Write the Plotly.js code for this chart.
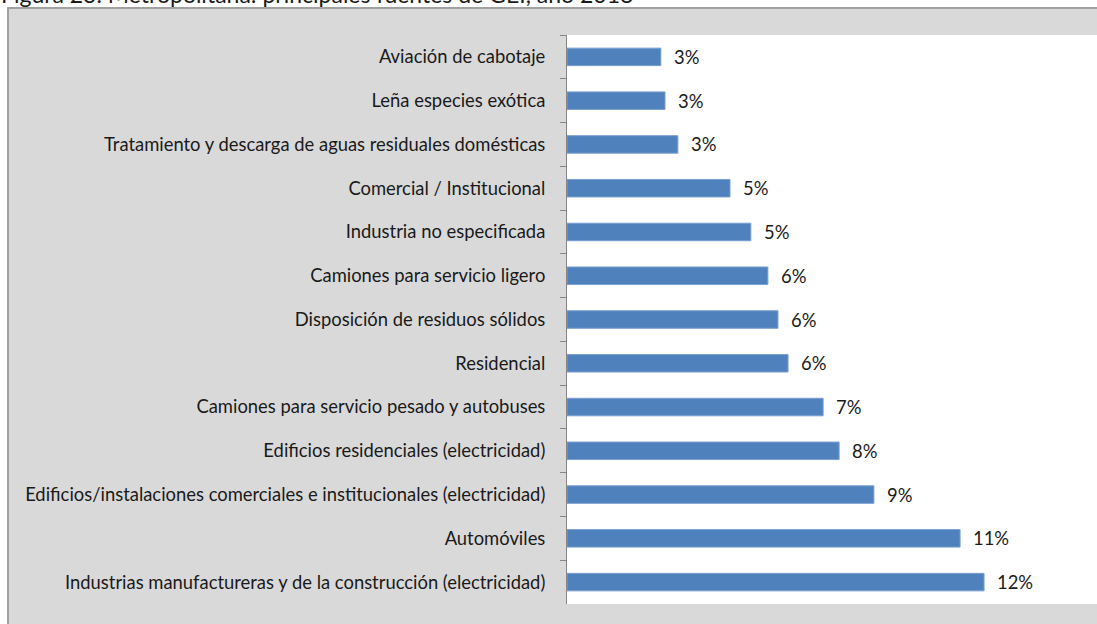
<!DOCTYPE html>
<html>
<head>
<meta charset="utf-8">
<script src="https://cdn.plot.ly/plotly-3.0.1.min.js"></script>
<style>html,body{margin:0;padding:0;background:#fff;}#chart{width:1097px;height:624px;}</style>
</head>
<body>
<div id="chart"></div>
<script>
// Categories, top to bottom as shown
const categories = [
  "Aviación de cabotaje",
  "Leña especies exótica",
  "Tratamiento y descarga de aguas residuales domésticas",
  "Comercial / Institucional",
  "Industria no especificada",
  "Camiones para servicio ligero",
  "Disposición de residuos sólidos",
  "Residencial",
  "Camiones para servicio pesado y autobuses",
  "Edificios residenciales (electricidad)",
  "Edificios/instalaciones comerciales e institucionales (electricidad)",
  "Automóviles",
  "Industrias manufactureras y de la construcción (electricidad)"
];
// Share of GHG emissions (%)
const values = [2.7, 2.82, 3.19, 4.69, 5.29, 5.78, 6.07, 6.36, 7.37, 7.83, 8.83, 11.31, 12.0];
// Data labels as printed
const pctLabels = ["3%", "3%", "3%", "5%", "5%", "6%", "6%", "6%", "7%", "8%", "9%", "11%", "12%"];
const titleText = "Figura 23. Metropolitana: principales fuentes de GEI, año 2018";

const FONT = "Lato, 'Liberation Sans', sans-serif";
const W = 1097, H = 624;
const M = {l: 567, r: 0, t: 35, b: 20};
const pw = W - M.l - M.r, ph = H - M.t - M.b;
const px = p => (p - M.l) / pw;          // pixel x -> paper x
const py = p => (H - M.b - p) / ph;      // pixel y -> paper y

const trace = {
  type: "bar",
  orientation: "h",
  x: values,
  y: categories,
  marker: {color: "#4f81bd", line: {color: "#7a9fcf", width: 1}},
  hoverinfo: "none"
};

const annotations = values.map((v, i) => ({
  x: v, y: categories[i], xref: "x", yref: "y",
  text: pctLabels[i], showarrow: false,
  xanchor: "left", xshift: 11,
  font: {family: FONT, size: 18.4, color: "#1a1a1a"}
}));
annotations.push({
  xref: "paper", yref: "paper", x: px(-1), y: 1,
  xanchor: "left", yanchor: "bottom", yshift: 25,
  text: titleText, showarrow: false,
  font: {family: FONT, size: 23, color: "#1a1a1a"}
});

const layout = {
  width: W, height: H,
  margin: M,
  paper_bgcolor: "#ffffff",
  plot_bgcolor: "rgba(0,0,0,0)",
  showlegend: false,
  bargap: 0.6,
  xaxis: {range: [0, 15.25], visible: false, showgrid: false, zeroline: false, fixedrange: true},
  yaxis: {
    autorange: "reversed",
    showline: true, linecolor: "#868686", linewidth: 1,
    ticks: "outside", tickson: "boundaries", ticklen: 6, tickcolor: "#868686", tickwidth: 1,
    ticklabelstandoff: 17,
    showgrid: false, zeroline: false,
    tickfont: {family: FONT, size: 18.4, color: "#1a1a1a"}
  },
  shapes: [
    {type: "rect", xref: "paper", yref: "paper", layer: "below",
     x0: px(8), x1: px(1120), y0: py(650), y1: py(8),
     fillcolor: "#d9d9d9", line: {color: "#a0a0a0", width: 2}},
    {type: "rect", xref: "paper", yref: "paper", layer: "below",
     x0: 0, x1: px(1110), y0: 0, y1: 1,
     fillcolor: "#ffffff", line: {width: 0}}
  ],
  annotations: annotations
};

Plotly.newPlot("chart", [trace], layout, {displayModeBar: false, staticPlot: true});
</script>
</body>
</html>
